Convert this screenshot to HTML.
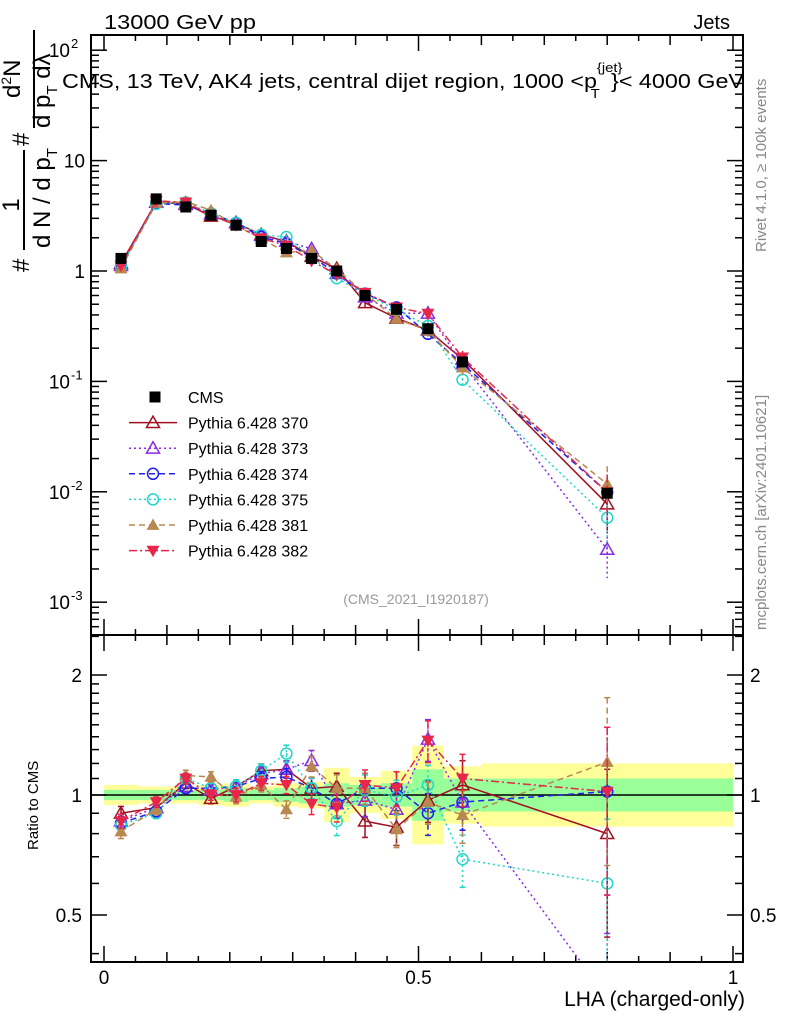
<!DOCTYPE html>
<html><head><meta charset="utf-8"><style>
html,body{margin:0;padding:0;background:#fff;}
svg{display:block;font-family:"Liberation Sans",sans-serif;}
</style></head><body>
<svg id="chart" width="786" height="1024" viewBox="0 0 786 1024" xmlns="http://www.w3.org/2000/svg">
<g id="bands"></g>
<g id="axes"></g>
<g id="series"></g>
<rect x="91" y="35" width="652" height="600" fill="none" stroke="#000" stroke-width="2"/>
<rect x="91" y="635" width="652" height="327" fill="none" stroke="#000" stroke-width="2"/>
<text x="104" y="29" font-size="20" textLength="152" lengthAdjust="spacingAndGlyphs">13000 GeV pp</text>
<text x="730" y="29" font-size="20" text-anchor="end">Jets</text>
<text x="62" y="88" font-size="20.5" textLength="682" lengthAdjust="spacingAndGlyphs">CMS, 13 TeV, AK4 jets, central dijet region, 1000 &lt;p<tspan font-size="13" dy="-16">{jet}</tspan><tspan font-size="13" dx="-28" dy="26">T</tspan><tspan dy="-10" dx="10">}&lt; 4000 GeV</tspan></text>
<text transform="translate(766,252) rotate(-90)" font-size="15" fill="#888">Rivet 4.1.0, ≥ 100k events</text>
<text transform="translate(766,630) rotate(-90)" font-size="15" fill="#888">mcplots.cern.ch [arXiv:2401.10621]</text>
<text x="416" y="604" font-size="14" fill="#999" text-anchor="middle">(CMS_2021_I1920187)</text>
<g font-size="24">
<text transform="translate(29,272) rotate(-90)">#</text>
<text transform="translate(19,205) rotate(-90)" text-anchor="middle">1</text>
<line x1="24" y1="250" x2="24" y2="150" stroke="#000" stroke-width="2"/>
<text transform="translate(50,248) rotate(-90)">d N / d p<tspan font-size="15" dy="7">T</tspan></text>
<text transform="translate(29,146) rotate(-90)">#</text>
<line x1="34" y1="128" x2="34" y2="30" stroke="#000" stroke-width="2"/>
<text transform="translate(20,98) rotate(-90)">d<tspan font-size="14" dy="-9">2</tspan><tspan dy="9">N</tspan></text>
<text transform="translate(50,128) rotate(-90)">d p<tspan font-size="15" dy="7">T</tspan><tspan dy="-7"> dλ</tspan></text>
</g>
<text transform="translate(38,850) rotate(-90)" font-size="15">Ratio to CMS</text>
<text x="745" y="1006" font-size="21" text-anchor="end">LHA (charged-only)</text>
<g id="legend"></g>
</svg>
<script>
// ---- data ----
const binEdges = [0,0.055,0.11,0.15,0.19,0.23,0.27,0.31,0.35,0.39,0.44,0.49,0.54,0.6,1.0];
const xPoints = [0.027,0.083,0.13,0.17,0.21,0.25,0.29,0.33,0.37,0.415,0.465,0.515,0.57,0.8];
const cmsValues = [1.3,4.5,3.8,3.2,2.6,1.85,1.6,1.3,1.0,0.6,0.45,0.3,0.15,0.0097];
const bandTotal = [0.06,0.05,0.05,0.06,0.07,0.05,0.07,0.08,0.17,0.11,0.15,0.33,0.18,0.2];
const bandStat = [0.03,0.03,0.03,0.03,0.04,0.03,0.04,0.05,0.07,0.06,0.07,0.16,0.1,0.1];
const mcRelErr = [0.04,0.03,0.03,0.03,0.04,0.04,0.05,0.06,0.08,0.09,0.1,0.12,0.15,0.45];
const ratio370 = [0.90,0.93,1.07,0.98,1.05,1.15,1.16,1.04,1.05,0.86,0.83,0.97,1.06,0.80];
const ratio373 = [0.86,0.93,1.05,1.03,1.05,1.13,1.16,1.22,0.95,0.97,0.92,1.38,0.96,0.31];
const ratio374 = [0.85,0.91,1.04,1.04,1.05,1.10,1.11,1.04,0.95,1.04,1.04,0.90,0.96,1.02];
const ratio375 = [0.84,0.90,1.10,1.04,1.05,1.15,1.27,1.04,0.86,1.03,0.99,1.06,0.69,0.60];
const ratio381 = [0.81,0.92,1.12,1.11,0.99,1.06,0.92,1.18,1.04,1.04,0.82,0.96,0.89,1.21];
const ratio382 = [0.86,0.96,1.10,1.00,1.00,1.07,1.06,0.95,0.93,1.06,1.04,1.37,1.10,1.02];
const mainTickLabels = ["10^-3","10^-2","10^-1","1","10","10^2"];
const ratioTickLabels = ["0.5","1","2"];
const xTickLabels = ["0","0.5","1"];
// ---- axes ----
const NS="http://www.w3.org/2000/svg";
const X0=104,X1=733;
const fx=v=>X0+(X1-X0)*v;
const fy=v=>271-110.4*Math.log10(v);
const fr=v=>795-398.6*Math.log10(v);
const RTOP=635,RBOT=962,MTOP=35;
function mk(tag,attrs,parent){const e=document.createElementNS(NS,tag);for(const k in attrs)e.setAttribute(k,attrs[k]);parent.appendChild(e);return e;}
const axes=document.getElementById('axes');
const bands=document.getElementById('bands');
const ser=document.getElementById('series');
for(let i=0;i<binEdges.length-1;i++){
  const xa=fx(binEdges[i]),xb=fx(binEdges[i+1]);
  const y1=mk('rect',{x:xa,y:fr(1+bandTotal[i]),width:xb-xa,height:fr(1/(1+bandTotal[i]))-fr(1+bandTotal[i]),fill:'#ffff99'},bands);
  
  
  const g1=mk('rect',{x:xa,y:fr(1+bandStat[i]),width:xb-xa,height:fr(1/(1+bandStat[i]))-fr(1+bandStat[i]),fill:'#99ff99'},bands);
  
  
}
const one=mk('line',{x1:91,x2:743,y1:fr(1),y2:fr(1),stroke:'#000','stroke-width':1.5},axes);


for(let k=0;k<=20;k++){
  const v=k*0.05, x=fx(v);
  const L=(k%10===0)?16:(k%2===0?10:6);
  [[RBOT,-1],[RTOP,1],[RTOP,-1],[MTOP,1]].forEach(([y,d])=>{mk('line',{x1:x,x2:x,y1:y,y2:y+d*L,stroke:'#000','stroke-width':1.5},axes);});
}
xTickLabels.forEach((t,i)=>{const tx=mk('text',{x:fx(parseFloat(t)),y:984,'font-size':19,'text-anchor':'middle'},axes);tx.textContent=t;
 
 });
for(let d=-4;d<=2;d++){
  for(let m=1;m<10;m++){
    const v=m*Math.pow(10,d), y=fy(v);
    if(y<MTOP||y>RTOP) continue;
    const L=m===1?16:8;
    mk('line',{x1:91,x2:91+L,y1:y,y2:y,stroke:'#000','stroke-width':1.5},axes);
    mk('line',{x1:743,x2:743-L,y1:y,y2:y,stroke:'#000','stroke-width':1.5},axes);
  }
}
mainTickLabels.forEach(t=>{
  let v, base, ex=null;
  if(t.indexOf('^')>=0){base=t.split('^')[0];ex=t.split('^')[1];v=Math.pow(10,parseFloat(ex));}else{base=t;v=parseFloat(t);}
  const y=fy(v)+7;
  const tx=mk('text',{x:ex?70:85,y:y,'font-size':19,'text-anchor':'end'},axes);
  
  
  if(ex){tx.textContent=base;const s=mk('text',{x:71,y:y-9,'font-size':13},axes);s.textContent=ex;}
  else tx.textContent=base;
});
[0.4,0.5,0.6,0.7,0.8,0.9,1,1.1,1.2,1.3,1.4,1.5,1.6,1.7,1.8,1.9,2,2.5].forEach(v=>{
  const y=fr(v); if(y<RTOP||y>RBOT) return;
  const L=(v===0.5||v===1||v===2)?16:8;
  mk('line',{x1:91,x2:91+L,y1:y,y2:y,stroke:'#000','stroke-width':1.5},axes);
  mk('line',{x1:743,x2:743-L,y1:y,y2:y,stroke:'#000','stroke-width':1.5},axes);
});
ratioTickLabels.forEach(t=>{
  const y=fr(parseFloat(t))+7;
  const a=mk('text',{x:82,y:y,'font-size':19,'text-anchor':'end'},axes);a.textContent=t;
  
  
  const b=mk('text',{x:750,y:y,'font-size':19},axes);b.textContent=t;
  
  
});
function marker(type,x,y,color,parent){
  const s=6.5;
  if(type==='square') return mk('rect',{x:x-5.5,y:y-5.5,width:11,height:11,fill:'#000'},parent);
  if(type==='otri') return mk('polygon',{points:`${x},${y-s} ${x-s},${y+s*0.75} ${x+s},${y+s*0.75}`,fill:'none',stroke:color,'stroke-width':1.5},parent);
  if(type==='ftri') return mk('polygon',{points:`${x},${y-s} ${x-s},${y+s*0.75} ${x+s},${y+s*0.75}`,fill:color},parent);
  if(type==='dtri') return mk('polygon',{points:`${x},${y+s} ${x-s},${y-s*0.75} ${x+s},${y-s*0.75}`,fill:color},parent);
  if(type==='circ') return mk('circle',{cx:x,cy:y,r:5.5,fill:'none',stroke:color,'stroke-width':1.5},parent);
}
const seriesDefs=[
 {name:'Pythia 6.428 370',r:ratio370,color:'#a01020',dash:'',m:'otri'},
 {name:'Pythia 6.428 373',r:ratio373,color:'#8a2be2',dash:'2,3',m:'otri'},
 {name:'Pythia 6.428 374',r:ratio374,color:'#2020ee',dash:'6,4',m:'circ'},
 {name:'Pythia 6.428 375',r:ratio375,color:'#20d8c8',dash:'2,3',m:'circ'},
 {name:'Pythia 6.428 381',r:ratio381,color:'#b88850',dash:'6,4',m:'ftri'},
 {name:'Pythia 6.428 382',r:ratio382,color:'#e8254a',dash:'8,3,2,3',m:'dtri'}
];
function clipY(y,a,b){return Math.max(a,Math.min(b,y));}
seriesDefs.forEach((sd,si)=>{
  const g=mk('g',{},ser);
  
  
  const mainPts=xPoints.map((x,i)=>[fx(x),fy(cmsValues[i]*sd.r[i])]);
  const ratPts=xPoints.map((x,i)=>[fx(x),fr(sd.r[i])]);
  const st={fill:'none',stroke:sd.color,'stroke-width':1.5};
  if(sd.dash) st['stroke-dasharray']=sd.dash;
  mk('polyline',Object.assign({points:mainPts.map(p=>p.join(',')).join(' ')},st),g);
  const cp=mk('clipPath',{id:'rc'+si},g);mk('rect',{x:91,y:RTOP,width:652,height:RBOT-RTOP},cp);
  const rg=mk('g',{'clip-path':`url(#rc${si})`},g);
  mk('polyline',Object.assign({points:ratPts.map(p=>p.join(',')).join(' ')},st),rg);
  xPoints.forEach((x,i)=>{
    const v=cmsValues[i]*sd.r[i], e=mcRelErr[i];
    const px=fx(x);
    const ya=fy(v*(1+e)), yb=fy(Math.max(v*(1-e),1e-4));
    mk('line',Object.assign({x1:px,x2:px,y1:ya,y2:yb},st),g);
    const ra=clipY(fr(sd.r[i]*(1+e)),RTOP,RBOT), rb=clipY(fr(Math.max(sd.r[i]*(1-e),0.3)),RTOP,RBOT);
    mk('line',Object.assign({x1:px,x2:px,y1:ra,y2:rb},st),rg);
    [ra,rb].forEach(yy=>mk('line',{x1:px-3,x2:px+3,y1:yy,y2:yy,stroke:sd.color,'stroke-width':1.5},rg));
    const m1=marker(sd.m,mainPts[i][0],mainPts[i][1],sd.color,g);
    
    
    const m2=marker(sd.m,ratPts[i][0],ratPts[i][1],sd.color,rg);
    
    
  });
});
const cg=mk('g',{},ser);


xPoints.forEach((x,i)=>{
  const m=marker('square',fx(x),fy(cmsValues[i]),'#000',cg);
  
  
});
const lg=document.getElementById('legend');
const ly0=397, ldy=25.6;
const lc=marker('square',155,ly0,'#000',lg);


const lt=mk('text',{x:188,y:ly0+6,'font-size':16},lg);lt.textContent='CMS';


seriesDefs.forEach((sd,i)=>{
  const y=ly0+ldy*(i+1);
  const st={stroke:sd.color,'stroke-width':1.5};
  if(sd.dash) st['stroke-dasharray']=sd.dash;
  mk('line',Object.assign({x1:129,x2:177,y1:y,y2:y},st),lg);
  marker(sd.m,153,y,sd.color,lg);
  const t=mk('text',{x:188,y:y+6,'font-size':16},lg);t.textContent=sd.name;
  
  
});
</script>
</body></html>
